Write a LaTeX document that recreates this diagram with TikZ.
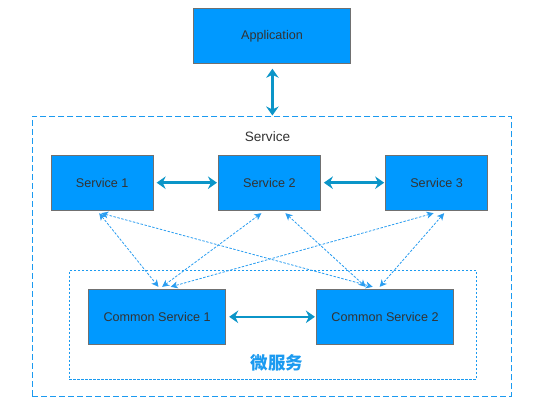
\documentclass[tikz,border=0pt]{standalone}
\usepackage{fontspec}
\setmainfont{Liberation Sans}
\newfontfamily\cjk{Noto Sans CJK SC}
\usetikzlibrary{arrows.meta}
\definecolor{boxfill}{HTML}{0099FF}
\definecolor{boxline}{HTML}{707070}
\definecolor{txt}{HTML}{333333}
\definecolor{solidarr}{HTML}{0B95C8}
\definecolor{dasharr}{HTML}{2A9DF0}
\definecolor{frame}{HTML}{1B9AF0}
\tikzset{
  svc/.style={draw=boxline, fill=boxfill, line width=0.9pt, inner sep=0pt, text=txt,
    font=\fontsize{12.6}{14}\selectfont},
  biarrow/.style={draw=solidarr, line width=2.4pt,
    {Stealth[length=9pt,width=12.5pt,inset=3pt]}-{Stealth[length=9pt,width=12.5pt,inset=3pt]}},
  dasharrow/.style={draw=dasharr, line width=0.8pt, dash pattern=on 2.5pt off 1.5pt,
    {Stealth[length=7pt,width=7pt,inset=2pt]}-{Stealth[length=7pt,width=7pt,inset=2pt]}},
}
\begin{document}
\begin{tikzpicture}[x=1pt,y=-1pt]
\useasboundingbox (0,0) rectangle (546,411);
% outer dashed frame
\node[draw=frame, line width=0.9pt, dash pattern=on 6pt off 3pt, minimum width=479pt, minimum height=280pt, inner sep=0pt]
  (outer) at (271.9,256.3) {};
\node[text=txt, font=\fontsize{13.6}{15}\selectfont] (svclabel) at (267.5,136.7) {Service};
% inner dotted frame
\node[draw=frame, line width=0.8pt, dash pattern=on 2.5pt off 1.5pt, minimum width=407pt, minimum height=108.7pt, inner sep=0pt]
  (inner) at (272.9,324.7) {};
\node[text=frame, font=\cjk\bfseries\fontsize{17.5}{19}\selectfont] (wei) at (276.9,362.5) {微服务};
% boxes
\node[svc, minimum width=157.4pt, minimum height=55pt] (app) at (272,35.8) {Application};
\node[svc, minimum width=102pt, minimum height=55.3pt] (s1) at (102.2,182.7) {Service 1};
\node[svc, minimum width=102pt, minimum height=55.3pt] (s2) at (269.4,182.7) {Service 2};
\node[svc, minimum width=102pt, minimum height=55.3pt] (s3) at (436.6,182.7) {Service 3};
\node[svc, minimum width=137.3pt, minimum height=55pt] (c1) at (157.1,316.8) {Common Service 1};
\node[svc, minimum width=137.3pt, minimum height=55pt] (c2) at (385,316.8) {Common Service 2};
% solid arrows
\coordinate (appdown) at (272.4,115.5);
\draw[biarrow] ([yshift=-5pt]app.south -| appdown) -- (appdown);
\draw[biarrow] ([xshift=3pt]s1.east) -- ([xshift=-1pt]s2.west);
\draw[biarrow] ([xshift=3pt]s2.east) -- ([xshift=-1pt]s3.west);
\draw[biarrow] ([xshift=3pt]c1.east) -- ([xshift=-1pt]c2.west);
% dashed arrows
\draw[dasharrow] ([shift={(-3pt,-2.4pt)}]s1.south) -- ([shift={(1.4pt,2pt)}]c1.north);
\draw[dasharrow] ([shift={(-1pt,-2.4pt)}]s1.south) -- ([shift={(-12.3pt,2pt)}]c2.north);
\draw[dasharrow] ([shift={(-8pt,-2.4pt)}]s2.south) -- ([shift={(5pt,2pt)}]c1.north);
\draw[dasharrow] ([shift={(16pt,-2.4pt)}]s2.south) -- ([shift={(-19.3pt,2pt)}]c2.north);
\draw[dasharrow] ([shift={(-3pt,-2.4pt)}]s3.south) -- ([shift={(13.6pt,2pt)}]c1.north);
\draw[dasharrow] ([shift={(7.5pt,-2.4pt)}]s3.south) -- ([shift={(-5.3pt,2pt)}]c2.north);
\end{tikzpicture}
\end{document}
